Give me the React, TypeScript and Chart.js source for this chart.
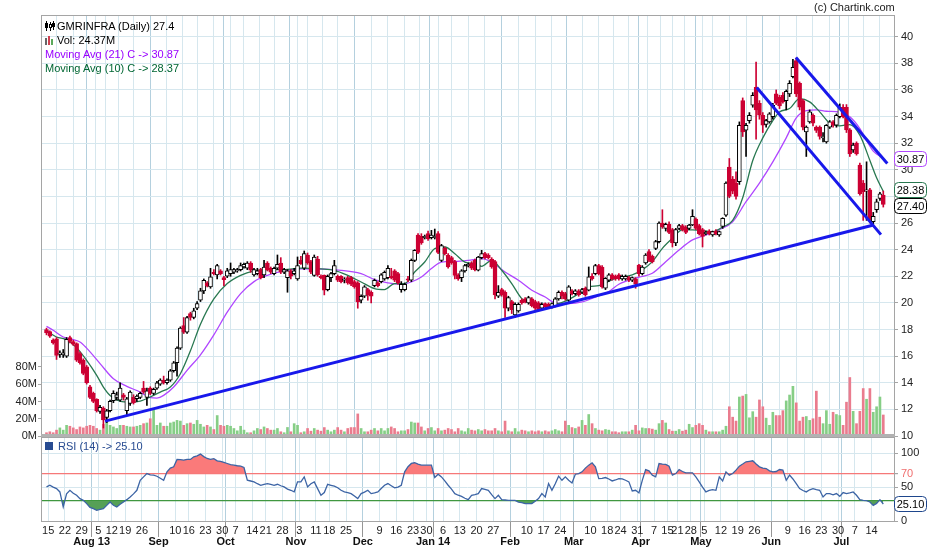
import React, { useEffect, useRef } from "react";
import { Chart, registerables } from "chart.js";

Chart.register(...registerables);

// ---------- calendar (NSE trading days) ----------
const FIRST_DAY = "2013-07-15";
const LAST_DAY = "2014-07-18";
const HOLIDAYS = [
  "2013-08-09", "2013-08-15", "2013-09-09", "2013-10-02", "2013-10-16", "2013-11-04", "2013-11-15", "2013-12-25",
  "2014-02-27", "2014-03-17", "2014-04-08", "2014-04-14", "2014-04-18", "2014-04-24", "2014-05-01",
];
const EXTRA_SESSIONS = ["2013-11-03"]; // Muhurat trading (Sunday)
const MONTH_NAMES = ["Jan", "Feb", "Mar", "Apr", "May", "Jun", "Jul", "Aug", "Sep", "Oct", "Nov", "Dec"];

// ---------- daily OHLC ----------
const OPEN = [
  18.0, 17.85, 17.2, 17.3, 16.15, 16.1, 16.0, 17.4, 17.1, 16.95,
  16.2, 15.7, 15.2, 13.7, 13.2, 12.75, 11.85, 12.1, 11.4, 11.9,
  12.65, 12.9, 12.7, 13.1, 11.9, 12.45, 12.9, 12.8, 12.9, 13.6,
  12.9, 13.6, 13.2, 13.6, 13.9, 14.2, 14.0, 14.2, 14.9, 15.5,
  16.6, 18.3, 17.8, 19.2, 18.9, 19.6, 20.2, 20.9, 21.5, 21.2,
  22.3, 22.1, 22.4, 21.9, 22.0, 22.2, 22.3, 22.4, 22.5, 22.7,
  22.6, 23.0, 22.1, 22.2, 22.5, 22.1, 23.0, 22.6, 22.2, 22.6,
  23.0, 22.3, 21.9, 22.4, 22.2, 21.8, 23.2, 22.6, 23.6, 23.1,
  22.07, 23.3, 22.0, 22.07, 21.0, 21.9, 22.2, 22.0, 22.0, 21.7,
  21.9, 21.9, 21.6, 21.5, 20.2, 20.5, 21.0, 20.8, 21.3, 21.5,
  21.6, 21.8, 21.9, 22.0, 22.4, 22.2, 21.0, 21.0, 21.8, 21.7,
  23.2, 25.1, 25.0, 24.9, 25.2, 24.9, 24.9, 25.2, 23.2, 24.1,
  23.6, 23.4, 23.1, 22.1, 21.9, 22.4, 22.8, 23.0, 23.2, 22.45,
  23.4, 23.7, 23.6, 23.3, 23.1, 20.5, 21.0, 20.8, 19.6, 20.1,
  19.1, 19.4, 20.2, 20.3, 20.0, 20.3, 20.1, 20.0, 19.6, 19.95,
  19.9, 19.7, 19.8, 20.3, 20.8, 20.7, 20.2, 20.9, 20.7, 20.9,
  20.8, 21.1, 20.95, 22.0, 22.2, 22.8, 22.7, 21.1, 21.7, 22.1,
  22.0, 22.1, 21.8, 21.8, 21.9, 21.7, 21.8, 22.85, 22.2, 23.0,
  23.85, 23.5, 24.1, 24.6, 26.0, 25.6, 25.9, 25.5, 24.5, 25.6,
  25.8, 25.7, 25.6, 25.85, 26.3, 25.8, 25.5, 25.2, 25.4, 25.1,
  25.4, 25.1, 25.75, 26.6, 30.2, 29.3, 29.0, 29.1, 35.2, 32.97,
  33.7, 34.85, 36.2, 35.0, 34.1, 33.4, 33.6, 34.0, 35.7, 35.45,
  35.6, 35.2, 35.7, 37.0, 38.2, 36.5, 35.2, 32.85, 33.6, 34.1,
  33.2, 33.2, 32.4, 32.1, 33.2, 33.6, 33.35, 34.0, 34.7, 34.7,
  33.0, 31.5, 32.0, 30.35, 29.0, 28.4, 28.5, 26.1, 27.0, 27.85,
  28.1,
];
const HIGH = [
  18.1, 17.9, 17.3, 17.4, 16.4, 16.5, 17.4, 17.5, 17.2, 17.0,
  16.3, 15.8, 15.3, 13.8, 13.3, 12.8, 12.3, 12.2, 12.0, 12.7,
  13.4, 13.3, 14.0, 13.2, 12.9, 13.4, 13.1, 13.1, 13.3, 14.1,
  13.6, 13.7, 13.6, 14.1, 14.3, 14.5, 14.3, 15.0, 15.6, 16.7,
  18.2, 18.9, 19.0, 19.3, 19.6, 20.1, 21.1, 21.8, 21.6, 22.6,
  22.5, 22.9, 22.5, 22.0, 22.6, 23.0, 22.6, 22.6, 23.0, 23.0,
  23.1, 23.1, 22.6, 22.6, 22.6, 23.2, 23.1, 22.7, 22.7, 23.6,
  23.4, 22.6, 22.5, 22.5, 22.6, 23.45, 23.5, 23.9, 23.75, 23.2,
  23.6, 23.5, 22.1, 22.1, 22.1, 22.3, 23.2, 22.1, 22.05, 21.9,
  22.0, 22.0, 21.7, 21.6, 20.6, 21.3, 21.1, 20.9, 21.8, 21.6,
  22.2, 22.4, 22.8, 22.6, 22.5, 22.3, 21.6, 21.5, 22.0, 23.3,
  24.0, 25.2, 25.2, 25.1, 25.4, 25.45, 25.55, 25.35, 24.4, 24.2,
  23.7, 23.5, 23.2, 22.2, 22.5, 22.9, 23.0, 23.1, 23.3, 23.5,
  23.95, 23.8, 23.7, 23.4, 23.2, 21.3, 21.1, 20.9, 20.5, 20.2,
  20.0, 20.0, 20.3, 20.4, 20.5, 20.4, 20.2, 20.1, 20.0, 20.0,
  20.0, 20.0, 20.4, 20.9, 20.9, 20.8, 21.3, 21.0, 21.0, 21.0,
  21.1, 21.2, 22.7, 22.2, 22.9, 22.9, 22.8, 21.9, 22.2, 22.2,
  22.1, 22.2, 22.1, 22.1, 22.0, 21.95, 21.9, 22.9, 22.8, 23.7,
  24.0, 23.6, 24.7, 26.1, 27.0, 26.0, 26.1, 25.6, 25.6, 25.9,
  25.9, 25.8, 25.9, 27.0, 26.4, 25.9, 25.6, 25.4, 25.5, 25.4,
  25.5, 25.4, 26.4, 29.1, 30.85, 29.5, 29.85, 33.6, 35.4, 33.5,
  34.3, 35.8, 38.1, 35.2, 34.3, 33.8, 34.3, 35.0, 36.0, 35.6,
  35.8, 36.0, 36.7, 38.3, 38.4, 36.6, 35.3, 33.3, 34.5, 34.2,
  33.3, 33.3, 32.8, 33.4, 33.7, 33.7, 34.2, 34.95, 34.9, 34.9,
  33.1, 32.0, 32.1, 30.5, 29.2, 30.6, 28.6, 26.8, 27.8, 28.3,
  28.4,
];
const LOW = [
  17.6, 17.4, 16.9, 15.75, 15.9, 15.9, 15.9, 17.0, 16.8, 15.6,
  15.4, 14.6, 13.9, 12.8, 12.5, 11.8, 11.7, 10.6, 11.0, 11.8,
  12.5, 12.7, 12.6, 12.7, 11.6, 12.3, 12.4, 12.6, 12.8, 13.2,
  12.3, 13.1, 13.1, 13.5, 13.8, 13.9, 13.9, 14.1, 14.8, 14.5,
  16.5, 17.7, 17.7, 18.7, 18.8, 19.5, 20.1, 20.7, 21.2, 21.1,
  22.1, 21.8, 22.1, 21.3, 21.9, 22.0, 22.2, 22.3, 22.4, 22.6,
  22.5, 22.3, 22.0, 22.1, 21.8, 21.9, 22.4, 22.2, 22.1, 22.5,
  22.2, 22.2, 20.8, 21.8, 22.1, 21.7, 22.9, 22.5, 22.9, 22.2,
  22.0, 22.0, 21.8, 20.6, 20.9, 21.6, 22.1, 21.6, 21.5, 21.5,
  21.4, 21.3, 21.1, 19.6, 20.0, 20.4, 20.2, 20.0, 21.2, 21.2,
  21.5, 21.7, 21.8, 21.8, 21.6, 21.4, 20.8, 20.9, 21.6, 21.6,
  23.1, 23.7, 24.4, 24.8, 24.7, 24.8, 24.8, 23.7, 23.1, 23.6,
  22.6, 22.9, 21.8, 21.7, 21.6, 22.3, 22.7, 22.5, 22.4, 22.4,
  23.3, 23.3, 23.3, 22.6, 20.3, 20.4, 20.5, 18.9, 19.4, 19.2,
  18.9, 19.3, 19.9, 20.0, 19.9, 19.7, 19.5, 19.4, 19.5, 19.6,
  19.6, 19.6, 19.7, 20.2, 20.3, 20.2, 20.1, 20.6, 20.6, 20.5,
  20.7, 20.5, 20.9, 21.7, 22.1, 22.1, 21.1, 21.0, 21.6, 21.7,
  21.7, 21.7, 21.7, 21.7, 21.6, 21.6, 21.1, 22.0, 22.1, 22.9,
  23.1, 23.0, 24.0, 24.5, 25.6, 25.4, 25.2, 24.2, 24.3, 25.5,
  25.4, 25.2, 25.5, 25.8, 25.5, 25.1, 24.2, 25.1, 25.1, 25.0,
  25.1, 25.0, 25.6, 26.5, 27.9, 28.2, 27.8, 28.9, 32.5, 31.0,
  33.5, 34.7, 32.3, 33.8, 32.8, 33.2, 33.5, 33.8, 34.9, 34.6,
  35.0, 34.5, 35.5, 36.9, 35.5, 34.5, 33.0, 31.0, 33.5, 33.3,
  32.8, 32.3, 32.1, 32.0, 33.1, 33.2, 33.2, 33.9, 33.9, 32.8,
  31.0, 31.3, 31.1, 28.1, 26.2, 26.2, 26.0, 25.9, 26.8, 27.7,
  27.2,
];
const CLOSE = [
  17.75, 17.5, 17.0, 16.05, 16.2, 16.25, 17.26, 17.1, 16.9, 15.7,
  15.5, 14.7, 14.0, 12.9, 12.6, 11.9, 12.15, 11.2, 11.9, 12.6,
  13.2, 13.1, 13.6, 12.9, 12.8, 13.3, 12.5, 13.0, 13.2, 13.3,
  13.4, 13.2, 13.5, 14.0, 14.2, 14.0, 14.2, 14.9, 15.5, 16.6,
  18.1, 17.8, 18.9, 18.9, 19.4, 19.95, 20.9, 21.7, 21.3, 21.95,
  22.2, 22.8, 22.2, 21.75, 22.4, 22.5, 22.5, 22.5, 22.8, 22.9,
  23.0, 22.45, 22.5, 22.4, 21.9, 22.7, 22.5, 22.3, 22.6, 22.9,
  22.3, 22.5, 22.4, 22.0, 22.4, 22.8, 22.95, 23.7, 23.0, 22.3,
  23.45, 22.1, 21.9, 20.95, 22.0, 22.2, 22.8, 21.7, 21.6, 21.75,
  21.5, 21.4, 21.2, 20.07, 20.5, 21.2, 20.6, 20.5, 21.7, 21.3,
  22.1, 22.3, 22.6, 21.9, 21.7, 21.5, 21.4, 21.4, 21.7, 23.2,
  23.95, 23.8, 24.5, 25.0, 24.8, 25.1, 25.0, 23.8, 24.3, 23.7,
  22.7, 23.0, 22.07, 21.8, 22.4, 22.8, 22.9, 22.6, 22.5, 23.45,
  23.7, 23.4, 23.4, 22.7, 20.6, 20.8, 20.6, 19.6, 20.4, 19.5,
  19.9, 19.9, 20.0, 20.1, 20.4, 19.8, 19.6, 19.5, 19.9, 19.7,
  19.7, 19.95, 20.3, 20.8, 20.5, 20.3, 21.2, 20.7, 20.9, 20.6,
  21.0, 20.6, 21.95, 21.8, 22.8, 22.2, 21.2, 21.85, 22.1, 21.8,
  21.8, 21.8, 22.0, 22.0, 21.7, 21.9, 21.4, 22.2, 22.7, 23.6,
  23.2, 23.1, 24.6, 26.0, 25.7, 25.9, 25.3, 24.5, 25.5, 25.8,
  25.5, 25.3, 25.85, 26.5, 25.6, 25.2, 25.0, 25.3, 25.2, 25.35,
  25.2, 25.35, 26.35, 29.0, 28.0, 28.4, 28.0, 33.35, 32.85, 33.35,
  34.1, 35.6, 34.5, 34.1, 33.35, 33.7, 34.2, 34.85, 35.0, 34.8,
  35.1, 35.9, 36.5, 37.7, 35.7, 34.7, 33.2, 33.2, 34.35, 33.5,
  32.95, 32.5, 32.5, 33.35, 33.6, 33.35, 34.1, 34.7, 34.0, 33.0,
  31.2, 31.85, 31.2, 28.2, 28.35, 28.5, 26.2, 26.5, 27.6, 28.2,
  27.4,
];
// daily volume, millions of shares
const VOLUME_M = [
  3.8, 4.9, 3.8, 6.8, 9.4, 6.8, 12.4, 11.3, 9.4, 7.5,
  10.5, 9.4, 11.3, 12.4, 11.3, 8.7, 6.8, 13.6, 20, 12.4,
  10.5, 8.7, 12.4, 12.4, 11.3, 10.5, 10.5, 11.3, 12.4, 14.3,
  15.1, 20, 31.3, 12.4, 15.1, 11.3, 11.3, 15.1, 16.2, 18.1,
  17.3, 12.4, 14.3, 15.1, 13.6, 18.1, 13.6, 10.5, 12.4, 10.5,
  7.5, 23.7, 12.4, 11.3, 12.4, 11.3, 8.7, 6.0, 11.3, 6.8,
  3.8, 3.8, 6.0, 8.7, 7.5, 10.5, 8.7, 6.8, 6.8, 8.7,
  4.9, 3.8, 9.9, 4.9, 14.3, 12.4, 3.8, 4.9, 8.7, 5.6,
  8.7, 6.8, 5.6, 9.8, 6.8, 4.9, 6.8, 9.8, 6.8, 4.9,
  8.7, 9.8, 9.8, 25.6, 8.7, 4.9, 4.9, 6.8, 8.7, 6.0,
  8.7, 6.0, 8.7, 10.5, 8.7, 4.9, 6.0, 6.0, 7.5, 16.2,
  15.1, 15.1, 10.5, 6.0, 8.7, 9.8, 6.0, 8.7, 6.0, 6.8,
  8.7, 7.5, 4.9, 8.7, 6.0, 4.9, 8.7, 6.8, 6.0, 7.5,
  6.0, 7.5, 6.0, 6.0, 8.7, 6.0, 4.9, 17.3, 6.0, 4.9,
  8.7, 4.9, 6.8, 6.0, 4.9, 6.0, 4.9, 6.0, 4.9, 6.0,
  4.9, 6.0, 7.5, 6.0, 4.9, 17.3, 12.4, 9.8, 8.7, 10.5,
  18.1, 12.4, 24.9, 14.3, 8.7, 6.8, 6.0, 7.5, 6.8, 4.9,
  4.9, 3.8, 4.9, 4.9, 4.9, 6.8, 12.4, 6.0, 9.4, 8.7,
  8.7, 8.0, 6.8, 14.3, 18.1, 15.1, 7.5, 5.6, 5.6, 7.5,
  5.6, 6.8, 13.6, 9.8, 12.4, 14.3, 12.4, 6.8, 4.9, 4.9,
  4.9, 4.9, 6.8, 11.3, 33.9, 21.8, 17.3, 45.2, 46.3, 48.2,
  21.1, 28.2, 21.8, 41.8, 33.9, 20.7, 12.4, 27.5, 23.7, 23.7,
  29.4, 40.7, 47.5, 57.6, 38.4, 17.3, 21.8, 22.6, 18.1, 20.0,
  52.0, 21.8, 14.3, 29.4, 13.6, 27.5, 24.9, 23.7, 12.4, 39.2,
  67.8, 28.6, 14.3, 28.6, 55.0, 42.6, 55.0, 27.5, 33.9, 45.2,
  24.37,
];
const RSI14 = [
  50.3, 52.7, 50, 47.8, 42.9, 20.6, 40, 45.3, 41, 37.9,
  33, 30.5, 25.6, 20, 18.2, 15.7, 17, 18.2, 23.1, 28,
  23.1, 20.6, 24.6, 28, 31.5, 35.5, 40, 45.3, 60.1, 65.1,
  70, 68, 67.6, 66, 63, 60.1, 72.5, 78, 79.9, 90.8,
  90.5, 89.8, 91, 90.8, 94.7, 96, 98.7, 95, 92.2, 91,
  92, 88.8, 88, 86.6, 84.8, 83, 82.4, 81.5, 80.9, 78.9,
  60.1, 59, 57.7, 55, 52.7, 54, 55.2, 54, 52.7, 54.2,
  52, 50.3, 47, 45.3, 42.9, 57.7, 57.7, 65.1, 50.3, 55,
  57.7, 47.8, 37.9, 42, 54.2, 52.7, 51.3, 49, 45.3, 42.9,
  42, 40.4, 37, 33.0, 40.4, 42.5, 45.3, 40.4, 41.5, 42.9,
  48, 52.7, 55.2, 52, 48.8, 50, 52.7, 72.5, 80, 84.9,
  85.9, 84, 82.4, 82.4, 82.4, 82.4, 64.1, 69.0, 65, 59.1,
  52.7, 47, 40.4, 38, 36.4, 33.5, 31.5, 37.9, 39, 40.4,
  47.8, 46.5, 45.3, 39, 33.0, 37.9, 31.5, 31, 30.5, 30.5,
  30.5, 28, 27, 25.6, 25.6, 25.6, 29, 33.0, 40.4, 35.5,
  55.2, 45.3, 55, 66.1, 60, 65.1, 60, 56.2, 69.0, 70,
  72.5, 78, 82.4, 85.9, 80, 62.6, 63, 64.1, 62, 59.1,
  60.5, 62.6, 62, 60.1, 57.7, 44.3, 45.3, 41.4, 60, 75.9,
  74, 67.6, 65.1, 84.8, 84, 83.4, 80.9, 67.6, 70, 75.9,
  73, 71, 71, 71, 65.1, 57.7, 50, 42.9, 45, 46.3,
  45.3, 65.1, 59.2, 72.5, 67.6, 70, 75, 80.9, 84, 87.3,
  88, 88.8, 84, 79.9, 78, 77.4, 74, 72.5, 73, 75.9,
  75, 60.1, 67.6, 62, 55.2, 47.8, 45, 42.9, 46, 47.8,
  46.3, 45.3, 35.5, 40.4, 40.4, 38.5, 40.4, 36.4, 42, 40.4,
  41.4, 42.9, 38, 31.5, 30.5, 30, 28.0, 23.1, 26, 31.5,
  25.1,
];
// moving averages: [trading-day number, value]
const MA21: [number, number][] = [
  [0, 18.24], [2, 17.94], [5, 17.44], [8, 17.24], [10, 17.06], [12, 16.6], [16, 15.44], [20, 14.3],
  [24, 13.73], [28, 13.3], [31, 12.88], [33, 12.85], [35, 13.05], [38, 13.68], [42, 14.93], [46, 16.1],
  [50, 17.6], [54, 19.3], [58, 20.7], [62, 21.6], [66, 22.07], [71, 22.4], [76, 22.55], [88, 22.45],
  [94, 22.2], [98, 21.75], [102, 21.5], [106, 21.4], [109, 21.57], [112, 21.95], [115, 22.58], [118, 23.07],
  [122, 23.12], [126, 23.2], [130, 23.33], [133, 23.07], [137, 22.32], [141, 21.7], [145, 20.95], [149, 20.44],
  [152, 20.0], [156, 19.95], [160, 20.07], [164, 20.44], [168, 20.85], [171, 21.4], [177, 21.93], [181, 22.23],
  [185, 23.1], [189, 23.98], [193, 24.73], [197, 25.1], [201, 25.5], [205, 26.1], [209, 27.6], [213, 29.0],
  [217, 30.6], [221, 32.4], [224, 33.9], [227, 34.45], [230, 34.5], [233, 34.4], [237, 34.32], [240, 33.98],
  [243, 33.1], [245, 32.2], [247, 31.4], [250, 30.87],
];
const MA10: [number, number][] = [
  [0, 17.9], [3, 17.44], [6, 17.24], [9, 16.64], [12, 15.68], [15, 14.56], [17, 13.68], [19, 13.05],
  [22, 12.62], [25, 12.55], [28, 12.62], [31, 12.93], [34, 13.3], [37, 13.68], [40, 14.68], [43, 16.4],
  [46, 18.4], [50, 20.3], [54, 21.45], [58, 22.07], [62, 22.4], [66, 22.5], [71, 22.5], [76, 22.62],
  [82, 22.55], [86, 22.45], [90, 22.07], [94, 21.57], [98, 21.07], [101, 21.0], [104, 21.45], [107, 21.45],
  [110, 22.32], [113, 23.07], [116, 24.08], [119, 24.2], [122, 23.7], [125, 23.07], [128, 22.95], [130, 22.75],
  [133, 23.2], [136, 22.45], [139, 21.45], [142, 20.32], [145, 19.95], [147, 19.82], [150, 19.74], [153, 19.95],
  [156, 20.25], [159, 20.7], [162, 21.2], [165, 21.3], [170, 21.85], [175, 22.1], [178, 22.48], [181, 23.1],
  [184, 24.1], [187, 24.85], [190, 25.48], [193, 25.48], [196, 25.43], [199, 25.35], [202, 25.7], [205, 26.2],
  [208, 27.9], [211, 30.7], [214, 32.4], [217, 33.7], [219, 34.35], [222, 34.6], [225, 35.35], [228, 35.1],
  [231, 34.35], [234, 33.5], [237, 33.3], [240, 33.4], [243, 32.6], [246, 30.7], [248, 29.4], [250, 28.38],
];
// hand-drawn trend lines: [[day, price], [day, price]]
const TREND_LINES: [number, number][][] = [
  [[17.5, 11.12], [246.8, 25.83]],
  [[223.9, 38.44], [251.2, 30.47]],
  [[212.2, 36.18], [249.3, 25.13]],
];
const PRICE_TICKS = [10, 12, 14, 16, 18, 20, 22, 24, 26, 28, 30, 32, 34, 36, 38, 40];
const VOLUME_TICKS = [0, 20, 40, 60, 80];
const RSI_TICKS = [0, 30, 50, 70, 100];
const LAST = { close: "27.4", vol: "24.37M", ma21: 30.87, ma10: 28.37, ma10Box: 28.38, closeBox: 27.4, rsi: 25.1 };

// ---------- styling ----------
const FONT = '"Liberation Sans", Arial, sans-serif';
const GRID_WEEK = "rgb(214,231,238)";
const GRID_MONTH = "rgb(180,208,222)";
const FRAME = "rgb(165,165,165)";
const UP_VOL = "rgb(134,206,134)";
const DOWN_VOL = "rgb(234,124,142)";
const FLAT_VOL = "rgb(196,196,196)";
const DOWN = "rgb(204,0,51)";
const PURPLE = "rgb(176,70,255)";
const PURPLE_TEXT = "rgb(153,0,255)";
const GREEN = "rgb(40,120,80)";
const GREEN_TEXT = "rgb(0,102,51)";
const BLUE = "rgb(24,24,235)";
const RSI_BLUE = "rgb(60,100,165)";
const LEFT_W = 41;
const RIGHT_W = 36;
const X_MIN = -1.64;
const X_MAX = 253.2;
const GRID_SHIFT = 0.5;
const TOP_CANVAS_H = 446;
const TOP_AXIS_H = 10; // chart area bottom at 436

function buildDays(): Date[] {
  const out: Date[] = [];
  const hol = new Set(HOLIDAYS);
  const extra = new Set(EXTRA_SESSIONS);
  let t = Date.parse(FIRST_DAY + "T00:00:00Z");
  const end = Date.parse(LAST_DAY + "T00:00:00Z");
  while (t <= end) {
    const d = new Date(t);
    const key = d.toISOString().slice(0, 10);
    const dow = d.getUTCDay();
    if ((dow !== 0 && dow !== 6 && !hol.has(key)) || extra.has(key)) out.push(d);
    t += 86400000;
  }
  return out;
}

type XTick = { pos: number; week: string; month: string; isMonth: boolean };
function buildTicks(days: Date[]): XTick[] {
  const ticks: XTick[] = [];
  let firstMonth = true;
  days.forEach((d, i) => {
    const prev = i > 0 ? days[i - 1] : null;
    const newWeek = !prev || d.getUTCDay() <= prev.getUTCDay() || d.getTime() - prev.getTime() >= 7 * 86400000;
    const newMonth = !!prev && d.getUTCMonth() !== prev.getUTCMonth();
    if (!newWeek && !newMonth) return;
    let month = "";
    if (newMonth) {
      const m = MONTH_NAMES[d.getUTCMonth()];
      month = firstMonth || d.getUTCMonth() === 0 ? m + " " + String(d.getUTCFullYear()).slice(2) : m;
      firstMonth = false;
    }
    ticks.push({ pos: i + GRID_SHIFT, week: newWeek && !newMonth ? String(d.getUTCDate()) : "", month, isMonth: newMonth });
  });
  return ticks;
}

const DAYS = buildDays();
const X_TICKS = buildTicks(DAYS);
const MONTH_POS = new Set(X_TICKS.filter((t) => t.isMonth).map((t) => t.pos));
const TICK_BY_POS = new Map(X_TICKS.map((t) => [t.pos, t]));

function zeroPad(s: any) {
  s.paddingLeft = 0;
  s.paddingRight = 0;
  s.paddingTop = 0;
  s.paddingBottom = 0;
}

function drawBoxes(chart: any, scaleId: string, boxes: { value: number; text: string; color: string }[]) {
  const { ctx, chartArea } = chart;
  const scale = chart.scales[scaleId];
  const h = 15;
  const w = 32;
  const items = boxes.map((b) => ({ ...b, y: scale.getPixelForValue(b.value) })).sort((a, b) => a.y - b.y);
  for (let k = 1; k < items.length; k++) {
    const d = items[k].y - items[k - 1].y;
    if (d < h + 1) {
      const s = (h + 1 - d) / 2;
      items[k - 1].y -= s;
      items[k].y += s;
    }
  }
  ctx.save();
  items.forEach((it) => {
    const x = chartArea.right + 0.5;
    const y = Math.round(it.y - h / 2) + 0.5;
    ctx.beginPath();
    ctx.roundRect(x, y, w, h, 4);
    ctx.fillStyle = "#fff";
    ctx.fill();
    ctx.strokeStyle = it.color;
    ctx.lineWidth = 1;
    ctx.stroke();
    ctx.fillStyle = "#000";
    ctx.font = "11px " + FONT;
    ctx.textAlign = "center";
    ctx.textBaseline = "middle";
    ctx.fillText(it.text, x + w / 2, y + h / 2 + 0.5);
  });
  ctx.restore();
}

function priceConfig(): any {
  const n = Math.min(CLOSE.length, OPEN.length, HIGH.length, LOW.length);
  const idx = Array.from({ length: n }, (_, i) => i);
  const up = idx.map((i) => CLOSE[i] >= OPEN[i]);
  const volColor = idx.map((i) => (CLOSE[i] > OPEN[i] ? UP_VOL : CLOSE[i] < OPEN[i] ? DOWN_VOL : FLAT_VOL));

  const framePlugin = {
    id: "frame",
    afterDatasetsDraw(chart: any) {
      const { ctx, chartArea: a } = chart;
      ctx.save();
      ctx.strokeStyle = FRAME;
      ctx.lineWidth = 1;
      ctx.beginPath();
      ctx.moveTo(a.left + 0.5, a.bottom);
      ctx.lineTo(a.left + 0.5, a.top + 0.5);
      ctx.lineTo(a.right + 0.5, a.top + 0.5);
      ctx.lineTo(a.right + 0.5, a.bottom);
      ctx.stroke();
      ctx.fillStyle = "rgb(178,178,178)";
      ctx.fillRect(a.left, a.bottom - 2, a.right - a.left + 1, 3);
      ctx.restore();
    },
    afterDraw(chart: any) {
      drawBoxes(chart, "y", [
        { value: LAST.ma21, text: LAST.ma21.toFixed(2), color: PURPLE },
        { value: LAST.ma10Box, text: LAST.ma10Box.toFixed(2), color: GREEN },
        { value: LAST.closeBox, text: LAST.closeBox.toFixed(2), color: "#000" },
      ]);
    },
  };

  return {
    type: "bar",
    data: {
      datasets: [
        ...TREND_LINES.map((seg) => ({
          type: "line",
          data: seg.map(([x, y]) => ({ x, y })),
          borderColor: BLUE,
          borderWidth: 3,
          pointRadius: 0,
          yAxisID: "y",
          order: 1,
        })),
        {
          type: "bar",
          data: idx.map((i) => ({ x: i, y: [OPEN[i], CLOSE[i]] })),
          backgroundColor: idx.map((i) => (up[i] ? "#ffffff" : DOWN)),
          borderColor: idx.map((i) => (up[i] ? "#000000" : DOWN)),
          borderWidth: 1,
          borderSkipped: false,
          barThickness: 4,
          minBarLength: 1,
          grouped: false,
          yAxisID: "y",
          order: 3,
        },
        {
          type: "bar",
          data: idx.map((i) => ({ x: i, y: [LOW[i], HIGH[i]] })),
          backgroundColor: idx.map((i) => (up[i] ? "#000000" : DOWN)),
          borderWidth: 0,
          barThickness: 1,
          grouped: false,
          yAxisID: "y",
          order: 4,
        },
        {
          type: "line",
          data: MA10.map(([x, y]) => ({ x, y })),
          borderColor: GREEN,
          borderWidth: 1.3,
          pointRadius: 0,
          cubicInterpolationMode: "monotone",
          yAxisID: "y",
          order: 5,
        },
        {
          type: "line",
          data: MA21.map(([x, y]) => ({ x, y })),
          borderColor: PURPLE,
          borderWidth: 1.3,
          pointRadius: 0,
          cubicInterpolationMode: "monotone",
          yAxisID: "y",
          order: 6,
        },
        {
          type: "bar",
          data: idx.map((i) => ({ x: i, y: VOLUME_M[i] })),
          backgroundColor: volColor,
          borderWidth: 0,
          barThickness: 2,
          grouped: false,
          yAxisID: "yVol",
          order: 10,
        },
      ],
    },
    options: {
      responsive: false,
      animation: false,
      maintainAspectRatio: false,
      events: [],
      layout: { padding: { top: 15, left: 0, right: 0, bottom: 0 } },
      plugins: { legend: { display: false }, tooltip: { enabled: false } },
      scales: {
        x: {
          type: "linear",
          position: "bottom",
          min: X_MIN,
          max: X_MAX,
          offset: false,
          afterBuildTicks: (s: any) => {
            s.ticks = X_TICKS.map((t) => ({ value: t.pos }));
          },
          afterFit: (s: any) => {
            s.height = TOP_AXIS_H;
            zeroPad(s);
          },
          ticks: { display: false },
          grid: {
            drawTicks: false,
            color: (c: any) => (c.tick && MONTH_POS.has(c.tick.value) ? GRID_MONTH : GRID_WEEK),
          },
          border: { display: false },
        },
        y: {
          type: "linear",
          position: "right",
          min: 10,
          max: 41.63,
          afterBuildTicks: (s: any) => {
            s.ticks = PRICE_TICKS.map((v) => ({ value: v }));
          },
          afterFit: (s: any) => {
            s.width = RIGHT_W;
            zeroPad(s);
          },
          ticks: { font: { size: 11, family: FONT }, color: "#222", padding: 3 },
          grid: { color: GRID_WEEK, tickLength: 4, tickColor: FRAME },
          border: { color: FRAME },
        },
        yVol: {
          type: "linear",
          position: "left",
          min: 0,
          max: 488,
          afterBuildTicks: (s: any) => {
            s.ticks = VOLUME_TICKS.map((v) => ({ value: v }));
          },
          afterFit: (s: any) => {
            s.width = LEFT_W;
            zeroPad(s);
          },
          ticks: { font: { size: 11, family: FONT }, color: "#222", padding: 1, callback: (v: any) => v + "M" },
          grid: { drawOnChartArea: false, tickLength: 3, tickColor: FRAME },
          border: { color: FRAME },
        },
      },
    },
    plugins: [framePlugin],
  };
}

function rsiConfig(): any {
  const n = RSI14.length;
  const pts = Array.from({ length: n }, (_, i) => ({ x: i, y: RSI14[i] }));
  const framePlugin = {
    id: "rsiFrame",
    afterDatasetsDraw(chart: any) {
      const { ctx, chartArea: a } = chart;
      ctx.save();
      ctx.strokeStyle = FRAME;
      ctx.lineWidth = 1;
      ctx.strokeRect(a.left + 0.5, a.top + 0.5, a.right - a.left, a.bottom - a.top);
      ctx.restore();
    },
    afterDraw(chart: any) {
      drawBoxes(chart, "y", [{ value: LAST.rsi, text: LAST.rsi.toFixed(2), color: "rgb(30,70,140)" }]);
    },
  };
  return {
    type: "line",
    data: {
      datasets: [
        {
          data: pts,
          borderColor: RSI_BLUE,
          borderWidth: 1.3,
          pointRadius: 0,
          tension: 0,
          fill: { target: { value: 70 }, above: "rgb(250,122,122)", below: "rgba(0,0,0,0)" },
          order: 1,
        },
        {
          data: pts,
          borderWidth: 0,
          borderColor: "rgba(0,0,0,0)",
          pointRadius: 0,
          tension: 0,
          fill: { target: { value: 30 }, above: "rgba(0,0,0,0)", below: "rgb(86,160,86)" },
          order: 2,
        },
      ],
    },
    options: {
      responsive: false,
      animation: false,
      maintainAspectRatio: false,
      events: [],
      layout: { padding: { top: 0, left: LEFT_W, right: 0, bottom: 0 } },
      plugins: { legend: { display: false }, tooltip: { enabled: false } },
      scales: {
        x: {
          type: "linear",
          position: "bottom",
          weight: 0,
          min: X_MIN,
          max: X_MAX,
          afterBuildTicks: (s: any) => {
            s.ticks = X_TICKS.map((t) => ({ value: t.pos }));
          },
          afterFit: (s: any) => {
            s.height = 16;
            zeroPad(s);
          },
          ticks: {
            autoSkip: false,
            maxRotation: 0,
            minRotation: 0,
            padding: -13,
            font: { size: 11, family: FONT },
            color: "#222",
            callback: (v: any) => (TICK_BY_POS.get(v) ? TICK_BY_POS.get(v)!.week : ""),
          },
          grid: {
            color: (c: any) => (c.tick && MONTH_POS.has(c.tick.value) ? GRID_MONTH : GRID_WEEK),
            tickLength: 16,
            tickColor: (c: any) => (c.tick && MONTH_POS.has(c.tick.value) ? "rgb(150,150,150)" : "rgba(0,0,0,0)"),
          },
          border: { display: false },
        },
        xm: {
          type: "linear",
          position: "bottom",
          weight: 1,
          min: X_MIN,
          max: X_MAX,
          afterBuildTicks: (s: any) => {
            s.ticks = X_TICKS.filter((t) => t.isMonth).map((t) => ({ value: t.pos }));
          },
          afterFit: (s: any) => {
            s.height = 14;
            zeroPad(s);
          },
          ticks: {
            autoSkip: false,
            maxRotation: 0,
            minRotation: 0,
            padding: -2,
            font: { size: 11, family: FONT, weight: "bold" },
            color: "#111",
            callback: (v: any) => (TICK_BY_POS.get(v) ? TICK_BY_POS.get(v)!.month : ""),
          },
          grid: { display: false, drawTicks: false },
          border: { display: false },
        },
        y: {
          type: "linear",
          position: "right",
          min: 0,
          max: 123.9,
          afterBuildTicks: (s: any) => {
            s.ticks = RSI_TICKS.map((v) => ({ value: v }));
          },
          afterFit: (s: any) => {
            s.width = RIGHT_W;
            zeroPad(s);
          },
          ticks: {
            font: { size: 11, family: FONT },
            padding: 3,
            color: (c: any) => (c.tick && c.tick.value === 70 ? "rgb(240,110,110)" : "#222"),
            callback: (v: any) => (v === 30 ? "" : String(v)),
          },
          grid: {
            color: (c: any) =>
              c.tick && c.tick.value === 70 ? "rgb(245,120,120)" : c.tick && c.tick.value === 30 ? "rgb(60,150,60)" : GRID_WEEK,
            lineWidth: (c: any) => (c.tick && (c.tick.value === 70 || c.tick.value === 30) ? 1.2 : 1),
            tickLength: 4,
            tickColor: FRAME,
          },
          border: { color: FRAME },
        },
      },
    },
    plugins: [framePlugin],
  };
}

const textStyle = (left: number, top: number, color: string): React.CSSProperties => ({
  position: "absolute",
  left,
  top,
  font: "11px " + FONT,
  lineHeight: "14px",
  color,
  whiteSpace: "nowrap",
});

export default function App() {
  const topRef = useRef<HTMLCanvasElement>(null);
  const rsiRef = useRef<HTMLCanvasElement>(null);

  useEffect(() => {
    const c1 = new Chart(topRef.current as HTMLCanvasElement, priceConfig());
    const c2 = new Chart(rsiRef.current as HTMLCanvasElement, rsiConfig());
    return () => {
      c1.destroy();
      c2.destroy();
    };
  }, []);

  return (
    <div style={{ position: "absolute", left: 0, top: 0, width: 930, height: 551, background: "#fff", overflow: "hidden" }}>
      <canvas ref={topRef} width={930} height={TOP_CANVAS_H} style={{ position: "absolute", left: 0, top: 0 }} />
      <canvas ref={rsiRef} width={930} height={114} style={{ position: "absolute", left: 0, top: 437 }} />

      <div style={textStyle(814, 0, "#222")}>(c) Chartink.com</div>

      {/* price legend */}
      <div style={{ position: "absolute", left: 45, top: 21, width: 10, height: 10 }}>
        <span style={{ position: "absolute", left: 1, top: 0, width: 1, height: 10, background: "#000" }} />
        <span style={{ position: "absolute", left: 0, top: 2, width: 3, height: 5, background: "#000" }} />
        <span style={{ position: "absolute", left: 5, top: 1, width: 1, height: 9, background: "#000" }} />
        <span style={{ position: "absolute", left: 4, top: 3, width: 3, height: 4, background: "#fff", border: "1px solid #000", boxSizing: "border-box" }} />
        <span style={{ position: "absolute", left: 8, top: 0, width: 1, height: 9, background: "#000" }} />
        <span style={{ position: "absolute", left: 7, top: 2, width: 3, height: 4, background: "#000" }} />
      </div>
      <div style={textStyle(57, 19, "#000")}>GMRINFRA (Daily) {LAST.close}</div>

      <div style={{ position: "absolute", left: 45, top: 35, width: 10, height: 10 }}>
        <span style={{ position: "absolute", left: 0, bottom: 0, width: 2, height: 7, background: "#666" }} />
        <span style={{ position: "absolute", left: 3, bottom: 0, width: 2, height: 9, background: "#d04050" }} />
        <span style={{ position: "absolute", left: 6, bottom: 0, width: 2, height: 6, background: "#5aa85a" }} />
      </div>
      <div style={textStyle(57, 33, "#000")}>Vol: {LAST.vol}</div>
      <div style={textStyle(45, 47, PURPLE_TEXT)}>Moving Avg (21) C -&gt; {LAST.ma21.toFixed(2)}</div>
      <div style={textStyle(45, 61, GREEN_TEXT)}>Moving Avg (10) C -&gt; {LAST.ma10.toFixed(2)}</div>

      {/* RSI legend */}
      <div style={{ position: "absolute", left: 45, top: 442, width: 8, height: 8, background: "rgb(40,75,145)" }} />
      <div style={textStyle(58, 439, "rgb(40,75,145)")}>RSI (14) -&gt; {LAST.rsi.toFixed(2)}</div>
    </div>
  );
}
